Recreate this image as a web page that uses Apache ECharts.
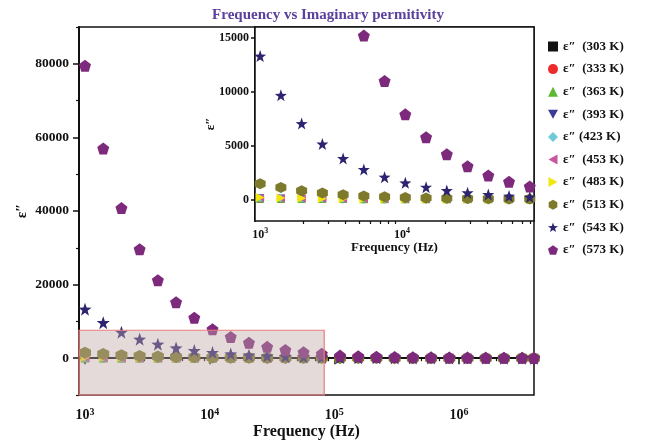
<!DOCTYPE html>
<html>
<head>
<meta charset="utf-8">
<script src="https://cdn.jsdelivr.net/npm/echarts@6/dist/echarts.min.js"></script>
<style>html,body{margin:0;padding:0;background:#fff}#chart{width:648px;height:442px}</style>
</head>
<body>
<div id="chart"></div>
<script>
// frequency points (Hz), shared by all temperatures
const freq = [1000, 1400, 1960, 2744, 3842, 5378, 7530, 10540, 14760, 20660, 28930, 40500, 56690,
  79370, 111100, 155600, 217800, 304900, 426900, 597600, 836700, 1171000, 1640000, 2296000, 3214000, 3990000];

const temps = ['303 K', '333 K', '363 K', '393 K', '423 K', '453 K', '483 K', '513 K', '543 K', '573 K'];

// imaginary permittivity per temperature
const e303 = [40, 32, 26, 21, 17, 14, 12, 10, 9, 8, 7, 6, 5, 5, 4, 4, 3, 3, 3, 2, 2, 2, 2, 2, 1, 1];
const e333 = [60, 48, 38, 30, 24, 19, 16, 13, 11, 9, 8, 7, 6, 5, 5, 4, 4, 3, 3, 3, 2, 2, 2, 2, 2, 1];
const e363 = [80, 62, 48, 38, 30, 24, 19, 16, 13, 11, 9, 8, 7, 6, 5, 5, 4, 4, 3, 3, 3, 2, 2, 2, 2, 2];
const e393 = [100, 78, 60, 46, 36, 28, 22, 18, 15, 12, 10, 9, 8, 7, 6, 5, 5, 4, 4, 3, 3, 3, 2, 2, 2, 2];
const e423 = [120, 92, 70, 54, 42, 33, 26, 21, 17, 14, 12, 10, 9, 8, 7, 6, 5, 5, 4, 4, 3, 3, 3, 2, 2, 2];
const e453 = [150, 115, 88, 67, 52, 40, 31, 25, 20, 16, 13, 11, 10, 9, 8, 7, 6, 5, 5, 4, 4, 3, 3, 3, 2, 2];
const e483 = [190, 145, 110, 84, 64, 50, 39, 31, 25, 20, 16, 13, 11, 10, 9, 8, 7, 6, 5, 5, 4, 4, 3, 3, 3, 2];
const e513 = [1450, 1110, 800, 590, 430, 310, 250, 190, 130, 100, 80, 60, 50, 40, 32, 26, 21, 17, 14, 12, 10, 8, 7, 6, 5, 4];
const e543 = [13300, 9660, 7040, 5150, 3800, 2780, 2070, 1540, 1140, 830, 620, 460, 310, 220, 160, 120, 90, 70, 55, 45, 35, 30, 25, 20, 15, 12];
const e573 = [79500, 57000, 40800, 29600, 21200, 15200, 11000, 7900, 5770, 4200, 3090, 2220, 1640, 1200, 700,
  520, 420, 340, 280, 230, 190, 160, 130, 110, 90, 80];

const values = [e303, e333, e363, e393, e423, e453, e483, e513, e543, e573];

// zoomed region marked in the main plot: [fMin, yMin, fMax, yMax]
const shadeBox = [[895, -10000, 83000, 7600]];

const colors = ['#111111', '#ee2a2a', '#5fb833', '#3b3b94', '#6fcad8', '#c8559e', '#f2e60f', '#7d7a2c', '#2c2470', '#7e2a7c'];
const symbols = [
  'rect',
  'circle',
  'triangle',
  'path://M0,0L10,0L5,9Z',
  'diamond',
  'path://M10,0L10,10L1,5Z',
  'path://M0,0L0,10L9,5Z',
  'path://M5,0L9.33,2.5L9.33,7.5L5,10L0.67,7.5L0.67,2.5Z',
  'path://M5,0L6.18,3.38L9.76,3.46L6.9,5.62L7.94,9.05L5,7L2.06,9.05L3.1,5.62L0.24,3.46L3.82,3.38Z',
  'path://M5,0L9.76,3.46L7.94,9.05L2.06,9.05L0.24,3.46Z'
];
const mainSize = [8, 9, 9, 9, 9, 9, 9, 12, 13, 12];
const insetSize = [7, 8, 8, 8, 8, 8, 9, 11, 12, 12];

const mainYLabels = [0, 20000, 40000, 60000, 80000];
const mainYMinor = [-10000, 10000, 30000, 50000, 70000, 90000];
const insetYLabels = [0, 5000, 10000, 15000];

const serif = 'Liberation Serif';

function legendName(t) {
  return t === '423 K' ? 'ε″ (' + t + ')' : 'ε″  (' + t + ')';
}

function minorTicks(lo, hi) {
  const out = [];
  for (let d = 100; d <= 1e7; d *= 10) {
    for (let m = 2; m <= 9; m++) {
      const v = d * m;
      if (v > lo && v < hi) out.push(Math.log10(v));
    }
  }
  return out;
}

function powLabel(v) {
  const e = Math.log10(v);
  const r = Math.round(e);
  if (Math.abs(e - r) > 1e-6) return '';
  return '{b|10}{s|' + r + '}';
}

const mainXMin = 895, mainXMax = 4000000;
const insetXMin = 920, insetXMax = 85000;

const axisLineStyle = { color: '#111', width: 2 };

function labelRich(size) {
  return {
    b: { fontFamily: serif, fontWeight: 'bold', fontSize: size, color: '#111' },
    s: { fontFamily: serif, fontWeight: 'bold', fontSize: size - 4, color: '#111', padding: [0, 0, 7, 0] }
  };
}

const series = [];
temps.forEach((t, i) => {
  const pts = freq.map((f, k) => [f, values[i][k]]);
  series.push({
    name: legendName(t), type: 'scatter', xAxisIndex: 0, yAxisIndex: 0,
    symbol: symbols[i], symbolSize: mainSize[i], itemStyle: { color: colors[i], opacity: 1 },
    data: pts, z: 2
  });
  series.push({
    name: legendName(t), type: 'scatter', xAxisIndex: 2, yAxisIndex: 2,
    symbol: symbols[i], symbolSize: insetSize[i], itemStyle: { color: colors[i], opacity: 1 },
    data: pts, z: 10
  });
});
// translucent shaded box drawn over the main plot markers
series.push({
  type: 'custom', xAxisIndex: 0, yAxisIndex: 0, z: 6, silent: true,
  encode: { x: [0, 2], y: [1, 3] },
  data: shadeBox,
  renderItem: function (params, api) {
    const p0 = api.coord([api.value(0), api.value(1)]);
    const p1 = api.coord([api.value(2), api.value(3)]);
    return {
      type: 'rect',
      shape: { x: p0[0], y: p1[1], width: p1[0] - p0[0], height: p0[1] - p1[1] },
      style: { fill: 'rgba(190,168,168,0.42)', stroke: '#f07c7c', lineWidth: 1.2 }
    };
  }
});

const chart = echarts.init(document.getElementById('chart'));
chart.setOption({
  animation: false,
  backgroundColor: '#fff',
  title: {
    text: 'Frequency vs Imaginary permitivity', left: 323, top: 3, textAlign: 'center',
    textStyle: { fontFamily: serif, fontWeight: 'bold', fontSize: 15, color: '#5b3f9c' }
  },
  legend: {
    orient: 'vertical', left: 543, top: 35, itemGap: 9.6, itemWidth: 10, itemHeight: 10,
    data: temps.map(legendName),
    textStyle: { fontFamily: serif, fontWeight: 'bold', fontSize: 13, color: '#111' }
  },
  grid: [
    { left: 79, top: 27, right: 114, bottom: 47, outerBoundsMode: 'none', show: true, borderColor: '#111', borderWidth: 1.5 },
    { left: 255, top: 27, right: 114, bottom: 221, outerBoundsMode: 'none', show: true, backgroundColor: '#fff', borderColor: '#111', borderWidth: 1.5, z: 3 }
  ],
  xAxis: [
    {
      type: 'log', gridIndex: 0, position: 'bottom', min: mainXMin, max: mainXMax,
      name: 'Frequency (Hz)', nameLocation: 'middle', nameGap: 29, nameMoveOverlap: false,
      nameTextStyle: { fontFamily: serif, fontWeight: 'bold', fontSize: 16, color: '#111' },
      axisLine: { lineStyle: axisLineStyle }, splitLine: { show: false },
      axisTick: { length: 6, lineStyle: { color: '#111', width: 1.5 } },
      axisLabel: { formatter: powLabel, margin: 12, rich: labelRich(14) }
    },
    {
      type: 'value', gridIndex: 0, position: 'bottom', min: Math.log10(mainXMin), max: Math.log10(mainXMax),
      axisLine: { show: false }, splitLine: { show: false }, axisLabel: { show: false },
      axisTick: { length: 3, customValues: minorTicks(mainXMin, mainXMax), lineStyle: { color: '#111', width: 1.2 } }
    },
    {
      type: 'log', gridIndex: 1, position: 'bottom', min: insetXMin, max: insetXMax,
      name: 'Frequency (Hz)', nameLocation: 'middle', nameGap: 20, nameMoveOverlap: false,
      nameTextStyle: { fontFamily: serif, fontWeight: 'bold', fontSize: 13, color: '#111' },
      axisLine: { lineStyle: axisLineStyle }, splitLine: { show: false },
      axisTick: { length: 5, lineStyle: { color: '#111', width: 1.5 } },
      axisLabel: { formatter: powLabel, margin: 6, rich: labelRich(12) }
    },
    {
      type: 'value', gridIndex: 1, position: 'bottom', min: Math.log10(insetXMin), max: Math.log10(insetXMax),
      axisLine: { show: false }, splitLine: { show: false }, axisLabel: { show: false },
      axisTick: { length: 3, customValues: minorTicks(insetXMin, insetXMax), lineStyle: { color: '#111', width: 1.2 } }
    }
  ],
  yAxis: [
    {
      type: 'value', gridIndex: 0, position: 'left', min: -10000, max: 90000,
      name: 'ε″', nameLocation: 'middle', nameGap: 49, nameMoveOverlap: false,
      nameTextStyle: { fontFamily: serif, fontWeight: 'bold', fontSize: 15, color: '#111' },
      axisLine: { lineStyle: axisLineStyle }, splitLine: { show: false },
      axisTick: { length: 6, customValues: mainYLabels, lineStyle: { color: '#111', width: 1.5 } },
      axisLabel: {
        customValues: mainYLabels, formatter: v => String(v), margin: 10,
        fontFamily: serif, fontWeight: 'bold', fontSize: 13.5, color: '#111'
      }
    },
    {
      type: 'value', gridIndex: 0, position: 'left', min: -10000, max: 90000,
      axisLine: { show: false }, splitLine: { show: false }, axisLabel: { show: false },
      axisTick: { length: 3, customValues: mainYMinor, lineStyle: { color: '#111', width: 1.2 } }
    },
    {
      type: 'value', gridIndex: 1, position: 'left', min: -2000, max: 16000,
      name: 'ε″', nameLocation: 'middle', nameGap: 38, nameMoveOverlap: false,
      nameTextStyle: { fontFamily: serif, fontWeight: 'bold', fontSize: 13, color: '#111' },
      axisLine: { lineStyle: axisLineStyle }, splitLine: { show: false },
      axisTick: { length: 4, customValues: insetYLabels, lineStyle: { color: '#111', width: 1.5 } },
      axisLabel: {
        customValues: insetYLabels, formatter: v => String(v), margin: 6,
        fontFamily: serif, fontWeight: 'bold', fontSize: 12, color: '#111'
      }
    }
  ],
  series: series
});
</script>
</body>
</html>
